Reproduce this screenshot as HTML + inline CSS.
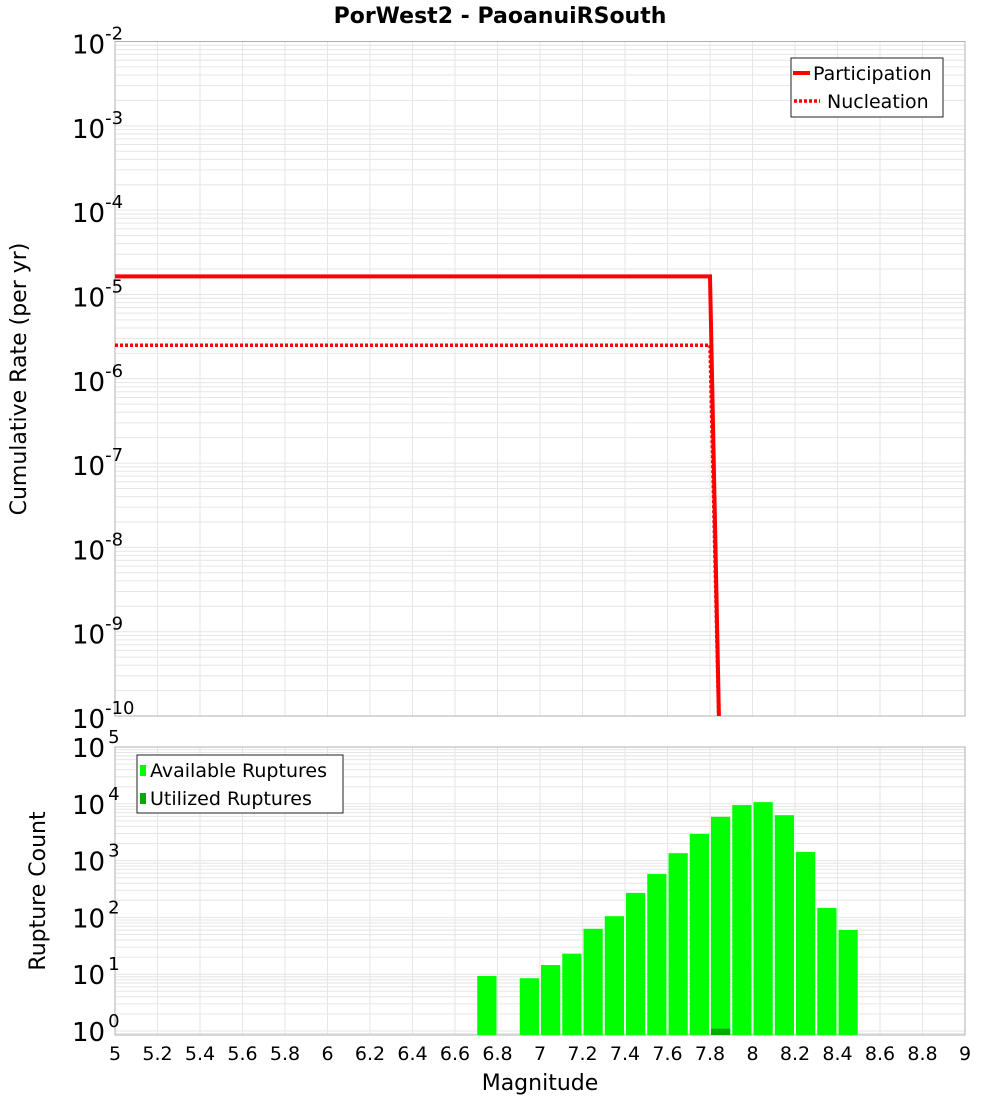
<!DOCTYPE html>
<html><head><meta charset="utf-8"><style>
body{margin:0;background:#fff;width:1000px;height:1100px;overflow:hidden}
svg{display:block;font-family:"DejaVu Sans","Liberation Sans",sans-serif}
</style></head><body>
<svg id="c" width="1000" height="1100"></svg>
<script>
const magTicks=["5","5.2","5.4","5.6","5.8","6","6.2","6.4","6.6","6.8","7","7.2","7.4","7.6","7.8","8","8.2","8.4","8.6","8.8","9"];
const partMags=[5,7.8,7.85];
const partRates=[1.64e-5,1.64e-5,1e-11];
const nuclMags=[5,7.8,7.85];
const nuclRates=[2.5e-6,2.5e-6,1e-11];
const binMags=[6.75,6.95,7.05,7.15,7.25,7.35,7.45,7.55,7.65,7.75,7.85,7.95,8.05,8.15,8.25,8.35,8.45];
const availCounts=[9.3,8.5,14.5,23,63,105,270,580,1350,2950,5900,9500,10700,6300,1420,147,60];
const utilMags=[7.85];
const utilCounts=[1.1];
const topExps=[-2,-3,-4,-5,-6,-7,-8,-9,-10];
const botExps=[5,4,3,2,1,0];

const NS="http://www.w3.org/2000/svg";
const svg=document.getElementById('c');
function el(tag,attrs,parent){const e=document.createElementNS(NS,tag);for(const k in attrs)e.setAttribute(k,attrs[k]);(parent||svg).appendChild(e);return e;}
const L=115,R=965;
const X=m=>L+(m-5)/4*(R-L);
const T0=41.5,T1=716, B0=747,B1=1035;
const Yt=v=>T0+(-2-Math.log10(v))/8*(T1-T0);
const bDec=56.8;
const Yb=v=>B0+(5-Math.log10(v))*bDec;

let t=el('text',{x:500,y:23,'text-anchor':'middle','font-size':22,'font-weight':'bold'});
t.textContent='PorWest2 - PaoanuiRSouth';



function grid(y0,y1,dmin,dmax,Y,name){
  const g=el('g',{});
  
  
  for(let d=dmin;d<dmax;d++)for(let k=1;k<10;k++){const y=Y(k*Math.pow(10,d));if(y>=y0-0.5&&y<=y1)el('line',{x1:L,x2:R,y1:y,y2:y,stroke:'#e6e6e6','stroke-width':1},g);}
  magTicks.forEach(m=>{const x=X(+m);el('line',{x1:x,x2:x,y1:y0,y2:y1,stroke:'#e6e6e6','stroke-width':1},g);});
  el('rect',{x:L,y:y0,width:R-L,height:y1-y0,fill:'none',stroke:'#b0b0b0','stroke-width':1},g);
}
grid(T0,T1,-10,-2,Yt,'top-grid');
grid(B0,B1,-1,5,Yb,'bottom-grid');

// top y ticks
topExps.forEach(e=>{const y=Yt(Math.pow(10,e));
  const tx=el('text',{x:72,y:y+12,'font-size':26});
  
  
  tx.textContent='10';
  const s=el('tspan',{dy:-14,'font-size':18});s.textContent=e;tx.appendChild(s);});
botExps.forEach(e=>{const y=Yb(Math.pow(10,e));
  const tx=el('text',{x:72,y:y+10,'font-size':26});
  
  
  tx.textContent='10';
  const s=el('tspan',{dx:3,dy:-14,'font-size':18});s.textContent=e;tx.appendChild(s);});
magTicks.forEach(m=>{const tx=el('text',{x:X(+m),y:1060,'text-anchor':'middle','font-size':19});
  
  
  tx.textContent=m;});

t=el('text',{x:540,y:1090,'text-anchor':'middle','font-size':22});t.textContent='Magnitude';


t=el('text',{x:0,y:0,'text-anchor':'middle','font-size':22,transform:'translate(26,379) rotate(-90)'});t.textContent='Cumulative Rate (per yr)';


t=el('text',{x:0,y:0,'text-anchor':'middle','font-size':22,transform:'translate(45,891) rotate(-90)'});t.textContent='Rupture Count';



// clip top
const defs=el('defs',{});
const cp=el('clipPath',{id:'ct'},defs);el('rect',{x:L,y:T0,width:R-L,height:T1-T0},cp);
const cb=el('clipPath',{id:'cb'},defs);el('rect',{x:L,y:B0,width:R-L,height:B1-B0},cb);

let p=el('polyline',{points:partMags.map((m,i)=>X(m)+','+Yt(partRates[i])).join(' '),fill:'none',stroke:'#ff0000','stroke-width':4,'clip-path':'url(#ct)'});


p=el('polyline',{points:nuclMags.map((m,i)=>X(m)+','+Yt(nuclRates[i])).join(' '),fill:'none',stroke:'#ff0000','stroke-width':3.5,'stroke-dasharray':'3,2','clip-path':'url(#ct)'});



// bars
const bw=0.1;
binMags.forEach((m,i)=>{const x0=X(m-bw/2)+1,x1=X(m+bw/2)-1,y=Yb(availCounts[i]);
  const r=el('rect',{x:x0,y:y,width:x1-x0,height:B1-y,fill:'#00ff00','clip-path':'url(#cb)'});
  
  });
utilMags.forEach((m,i)=>{const x0=X(m-bw/2)+1,x1=X(m+bw/2)-1,y=Yb(utilCounts[i]);
  const r=el('rect',{x:x0,y:y,width:x1-x0,height:B1-y,fill:'#00aa00','clip-path':'url(#cb)'});
  
  });

// legends
let g=el('g',{});


el('rect',{x:791,y:58,width:152,height:59,fill:'#fff',stroke:'#222','stroke-width':1},g);
el('line',{x1:793,x2:810,y1:73,y2:73,stroke:'#f00','stroke-width':4},g);
el('line',{x1:794,x2:820,y1:101,y2:101,stroke:'#f00','stroke-width':3.5,'stroke-dasharray':'3,2'},g);
t=el('text',{x:813,y:80,'font-size':19},g);t.textContent='Participation';
t=el('text',{x:827,y:108,'font-size':19},g);t.textContent='Nucleation';

g=el('g',{});


el('rect',{x:137,y:755,width:206,height:58,fill:'#fff',stroke:'#222','stroke-width':1},g);
el('rect',{x:140,y:765,width:6,height:11,fill:'#00ff00'},g);
el('rect',{x:140,y:793,width:6,height:11,fill:'#00aa00'},g);
t=el('text',{x:150,y:777,'font-size':19},g);t.textContent='Available Ruptures';
t=el('text',{x:150,y:805,'font-size':19},g);t.textContent='Utilized Ruptures';
</script>
</body></html>
